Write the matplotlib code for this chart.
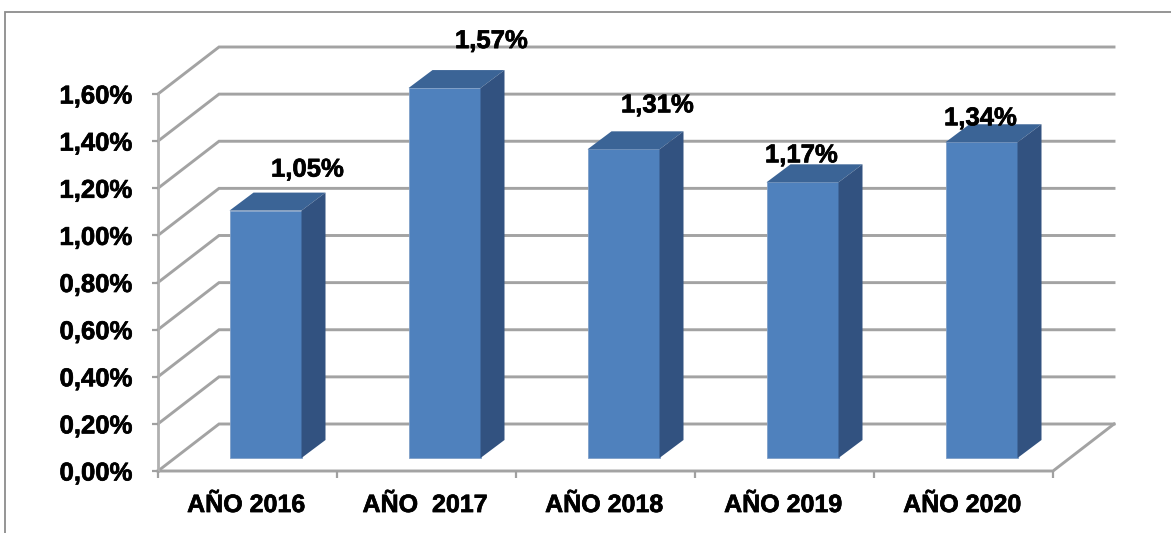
import matplotlib
matplotlib.use("Agg")
import matplotlib.pyplot as plt
import matplotlib.patheffects as pe
from matplotlib.lines import Line2D

plt.rcParams['font.family'] = ['Liberation Sans', 'DejaVu Sans']

categories = ["AÑO 2016", "AÑO  2017", "AÑO 2018", "AÑO 2019", "AÑO 2020"]
values = [1.05, 1.57, 1.31, 1.17, 1.34]
value_labels = ["1,05%", "1,57%", "1,31%", "1,17%", "1,34%"]
y_ticks = [0.0, 0.2, 0.4, 0.6, 0.8, 1.0, 1.2, 1.4, 1.6]
y_tick_labels = ["0,00%", "0,20%", "0,40%", "0,60%", "0,80%", "1,00%", "1,20%", "1,40%", "1,60%"]
label_offsets_px = [(42, 41), (47, 47), (34, 44), (-1, 27), (-1, 24)]

W, H = 1171, 533
L, R, T, B = 158, 1053, 94, 471     # front plane of the 3-D box, in pixels
DX, DY = 61, 47                     # box depth in pixels
BAR_W = 72
BAR_X, BAR_Y = 18, 13               # bar offset into the box
BAR_DX, BAR_DY = 24, 18             # bar depth
GRID = "#a3a3a3"
FRONT, TOP, SIDE = "#4f81bd", "#3b6496", "#325280"
HEAVY = [pe.withStroke(linewidth=0.5, foreground="black")]

fig = plt.figure(figsize=(W / 100, H / 100), dpi=100, facecolor="white")
ax = fig.add_axes([L / W, 1 - B / H, (R - L) / W, (B - T) / H])
ax.set_xlim(-0.5, 4.5)
ax.set_ylim(0, 1.6)
ax.patch.set_alpha(0)
for s in ax.spines.values():
    s.set_visible(False)

px = (4.5 + 0.5) / (R - L)          # data units per pixel, x
py = 1.6 / (B - T)                  # data units per pixel, y
dx, dy = DX * px, DY * py

# Walls
for v in y_ticks:
    ax.plot([-0.5, -0.5 + dx, 4.5 + dx], [v, v + dy, v + dy], color=GRID, lw=2.1,
            clip_on=False, zorder=1, solid_joinstyle="miter")
ax.plot([-0.5, 4.5, 4.5 + dx], [0, 0, dy], color=GRID, lw=2.1, clip_on=False, zorder=1,
        solid_joinstyle="miter")
ax.plot([-0.5, -0.5], [0, 1.6], color="#b0b0b0", lw=2, clip_on=False, zorder=1.5)

# Ticks
ax.set_xticks([-0.5 + i for i in range(6)], [""] * 6)
ax.set_yticks(y_ticks)
ax.set_yticklabels(y_tick_labels, fontsize=18.5, fontweight="bold", color="black",
                   path_effects=HEAVY)
ax.tick_params(axis="y", length=4.5, width=1.6, color="#a0a0a0", pad=14)
ax.tick_params(axis="x", length=5, width=1.6, color="#a0a0a0", pad=0)

# Bars
bw, bdx, bdy = BAR_W * px, BAR_DX * px, BAR_DY * py
ox, oy = BAR_X * px, BAR_Y * py
for i, (v, lab, (lx, ly)) in enumerate(zip(values, value_labels, label_offsets_px)):
    x0 = i + ox - bw / 2
    x1 = x0 + bw
    ax.bar(x0, v, width=bw, bottom=oy, align="edge", color=FRONT, edgecolor="#7f9fc8",
           linewidth=0.6, zorder=3, clip_on=False)
    top = v + oy
    ax.fill([x0, x1, x1 + bdx, x0 + bdx], [top, top, top + bdy, top + bdy], color=TOP,
            lw=0, zorder=3, clip_on=False)
    ax.fill([x1, x1 + bdx, x1 + bdx, x1], [oy, oy + bdy, top + bdy, top], color=SIDE,
            lw=0, zorder=3, clip_on=False)
    ax.annotate(lab, (i + ox, top), xytext=(lx * 0.72, ly * 0.72),
                textcoords="offset points", ha="center", va="center", fontsize=18.5,
                fontweight="bold", color="black", zorder=5, annotation_clip=False,
                path_effects=HEAVY)
    ax.annotate(categories[i], (i + 0.0, 0), xytext=(-1, -24.5), textcoords="offset points",
                ha="center", va="center", fontsize=18, fontweight="bold", color="black",
                annotation_clip=False, path_effects=HEAVY)

# Outer frame (left and top only reach the image edge)
fig.add_artist(Line2D([5.5 / W, 5.5 / W, 1], [0, 1 - 11.5 / H, 1 - 11.5 / H],
                      color="#8c8c8c", lw=1.3, solid_joinstyle="miter"))

fig.savefig("out.png", dpi=100, facecolor="white")
